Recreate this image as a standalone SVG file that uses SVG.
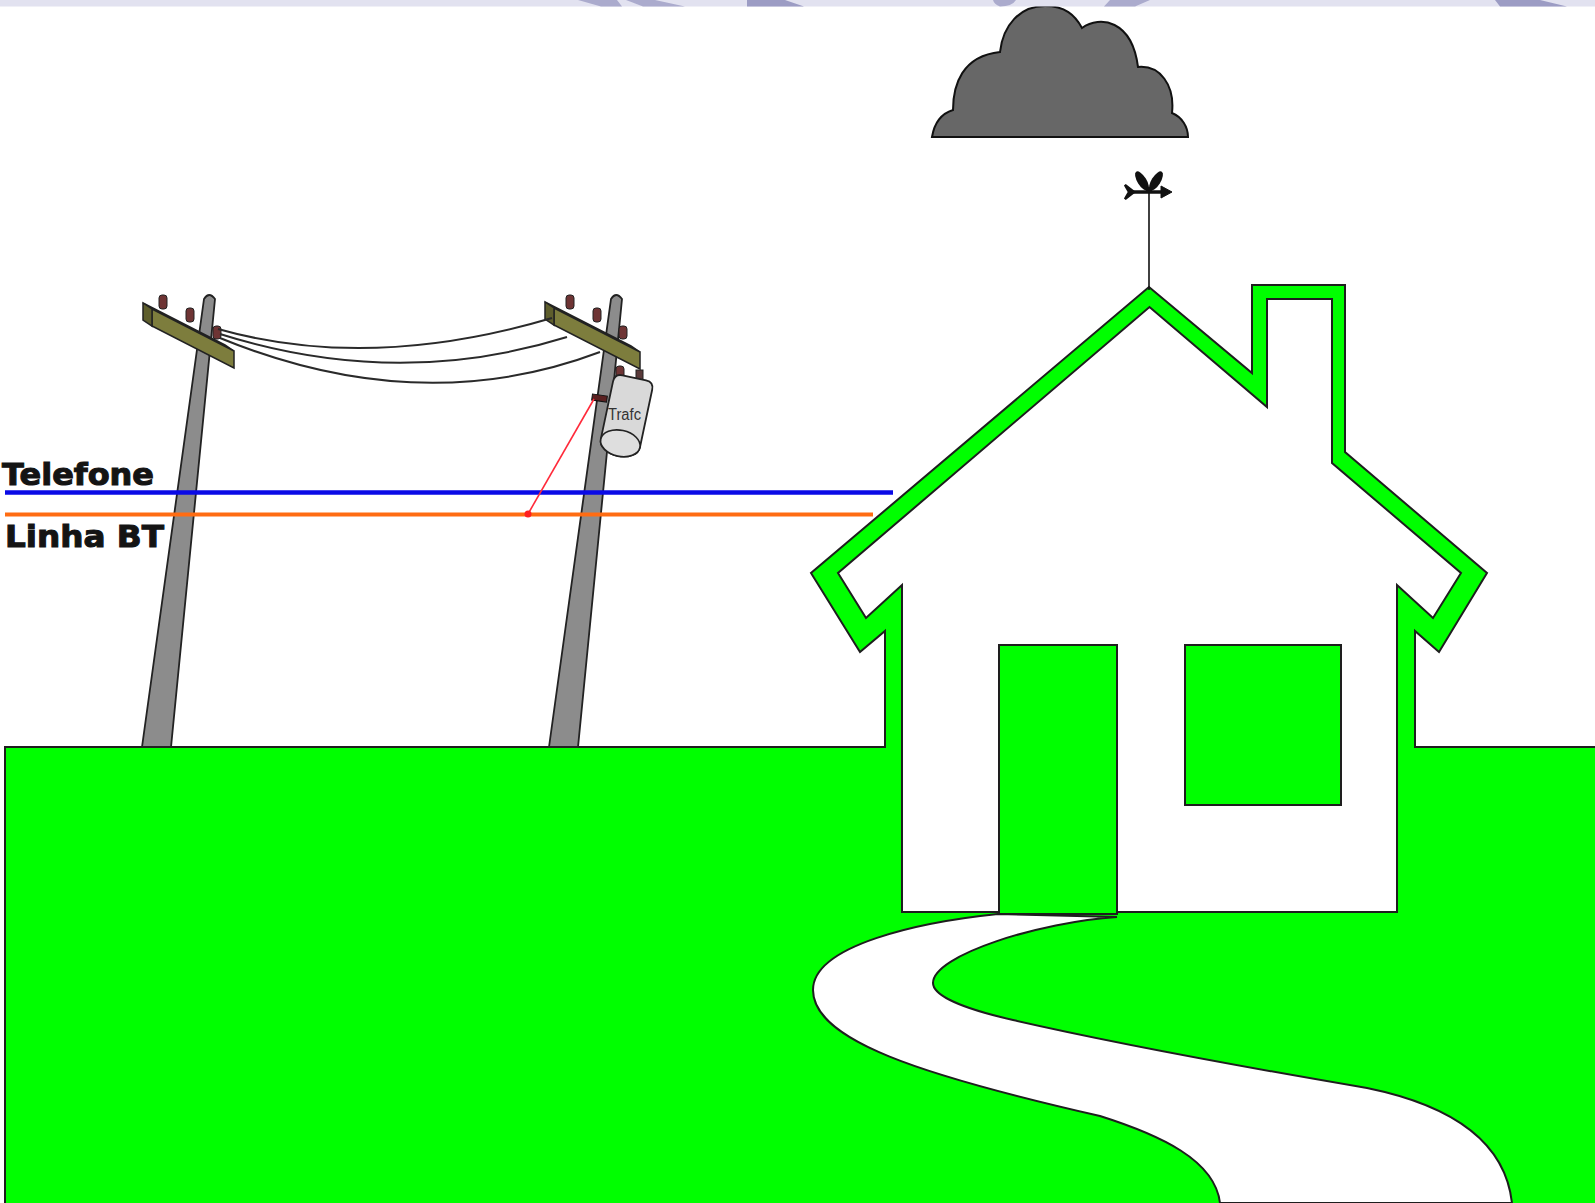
<svg xmlns="http://www.w3.org/2000/svg" width="1595" height="1203" viewBox="0 0 1595 1203">
  <style>
    .edge { stroke: #1e1e1e; stroke-width: 2; stroke-linejoin: miter; }
    .grass { fill: #00ff00; }
    .pole { fill: #8c8c8c; stroke: #222; stroke-width: 1.8; }
    .beam-front { fill: #7d7d3d; stroke: #222; stroke-width: 1.5; }
    .beam-top { fill: #96964f; stroke: #222; stroke-width: 1.5; }
    .beam-end { fill: #5e5e2c; stroke: #222; stroke-width: 1.5; }
    .ins { fill: #6e3434; stroke: #222; stroke-width: 1; }
    .wire { fill: none; stroke: #2a2a2a; stroke-width: 2; }
    .label { font-family: "DejaVu Sans", "Liberation Sans", sans-serif; font-weight: bold; font-size: 31px; fill: #141414; stroke: #141414; stroke-width: 1.1; }
    .band { fill: #ababcd; }
  </style>

  <rect width="1595" height="1203" fill="#ffffff"/>

  <!-- ground -->
  <g id="ground">
    <rect x="5" y="747" width="1590" height="456" class="grass"/>
    <path d="M5,1203 L5,747 L1595,747" fill="none" class="edge"/>
  </g>

  <!-- house: green outer band, white interior -->
  <g id="house">
    <path class="grass" d="M885,760 L885,631 L860,652 L811,573 L1149,287 L1252,373 L1252,285 L1345,285 L1345,452 L1487,573 L1439,652 L1415,631 L1415,760 Z"/>
    <path fill="none" class="edge" d="M885,748 L885,631 L860,652 L811,573 L1149,287 L1252,373 L1252,285 L1345,285 L1345,452 L1487,573 L1439,652 L1415,631 L1415,748"/>
    <path fill="#ffffff" class="edge" d="M902,912 L902,585 L866,618 L838,573 L1149.5,307 L1267,407 L1267,299 L1332,299 L1332,463 L1461,573 L1433,618 L1397,585 L1397,912 Z"/>
    <rect id="door" x="999" y="645" width="118" height="269" class="grass edge"/>
    <rect id="window" x="1185" y="645" width="156" height="160" class="grass edge"/>
  </g>

  <!-- winding path from the door -->
  <g id="road">
    <path fill="#ffffff" class="edge" d="M998,914 C920,922 813,945 813,990 C813,1040 920,1075 1100,1116 C1160,1135 1215,1160 1220,1203 L1512,1203 C1505,1140 1450,1105 1367,1088 C1250,1068 1100,1040 1013,1020 C960,1008 933,995 933,983 C933,955 1040,922 1117,917 Z"/>
  </g>

  <!-- weather vane on the roof peak -->
  <g id="weathervane" fill="#111" stroke="#111">
    <line x1="1149" y1="192" x2="1149" y2="290" stroke-width="1.6"/>
    <line x1="1130" y1="192" x2="1164" y2="192" stroke-width="3.5"/>
    <polygon points="1161,186 1172,192 1161,198" stroke-width="1"/>
    <polygon points="1125,185 1134,192 1125,199 1129,192" stroke-width="2.5"/>
    <ellipse cx="1142" cy="181" rx="4.5" ry="11" transform="rotate(-32 1142 181)" stroke="none"/>
    <ellipse cx="1156" cy="181" rx="4.5" ry="11" transform="rotate(32 1156 181)" stroke="none"/>
    <circle cx="1149" cy="190" r="3" stroke="none"/>
  </g>

  <!-- storm cloud -->
  <g id="cloud">
    <path fill="#676767" stroke="#111" stroke-width="2" d="M932,137 C934,125 940,114 953,110 C953,85 962,56 1000,52 C1003,25 1020,6 1045,6 C1065,6 1075,15 1082,28 C1100,15 1132,20 1138,67 C1160,65 1175,85 1172,113 C1182,117 1188,127 1188,137 Z"/>
  </g>

  <!-- left pole -->
  <g id="pole-left">
    <path class="pole" d="M142,747 L204,299 Q209,291 215,299 L171,747 Z"/>
    <rect class="ins" x="159" y="295" width="8" height="14" rx="3"/>
    <rect class="ins" x="186" y="308" width="8" height="14" rx="3"/>
    <polygon class="beam-top" points="143,303 152,309 234,351 225,345"/>
    <polygon class="beam-front" points="152,309 234,351 234,368 152,326"/>
    <polygon class="beam-end" points="143,303 152,309 152,326 143,320"/>
    <rect class="ins" x="213" y="326" width="8" height="13" rx="3"/>
  </g>

  <!-- right pole with transformer -->
  <g id="pole-right">
    <path class="pole" d="M549,747 L611,299 Q616,291 622,299 L578,747 Z"/>
    <rect class="ins" x="566" y="295" width="8" height="14" rx="3"/>
    <rect class="ins" x="593" y="308" width="8" height="14" rx="3"/>
    <polygon class="beam-top" points="545,302 554,308 640,352 631,346"/>
    <polygon class="beam-front" points="554,308 640,352 640,369 554,325"/>
    <polygon class="beam-end" points="545,302 554,308 554,325 545,319"/>
    <rect class="ins" x="619" y="326" width="8" height="13" rx="3"/>
  </g>

  <g id="transformer">
    <rect class="ins" x="616" y="366" width="8" height="14" rx="3"/>
    <rect x="636" y="370" width="7" height="10" fill="#5a3a3a" stroke="#222" stroke-width="1"/>
    <g transform="rotate(12 627 412)">
      <path fill="#d9d9d9" stroke="#222" stroke-width="1.8" d="M607,385 Q607,377 615,377 L639,377 Q647,377 647,385 L647,444 A20,13 0 0 1 607,444 Z"/>
      <ellipse cx="627" cy="444" rx="20" ry="13" fill="#dedede" stroke="#222" stroke-width="1.6"/>
    </g>
    <text x="608" y="420" font-family="Liberation Sans, Arial, sans-serif" font-size="16" fill="#333" textLength="33" lengthAdjust="spacingAndGlyphs">Trafc</text>
    <rect x="592" y="395" width="15" height="6" fill="#5a2020" stroke="#111" stroke-width="1" transform="rotate(8 599 398)"/>
  </g>

  <!-- lines between poles, service lines and drop wire -->
  <g id="connectors">
    <path class="wire" d="M218,329 Q370,372 552,318"/>
    <path class="wire" d="M220,334 Q397,390 567,337"/>
    <path class="wire" d="M220,338 Q420,420 600,352"/>
    <line x1="5" y1="492.5" x2="893" y2="492.5" stroke="#0a0ae6" stroke-width="4.5"/>
    <line x1="5" y1="514.5" x2="873" y2="514.5" stroke="#ff6c12" stroke-width="4"/>
    <line x1="594" y1="399" x2="528" y2="514" stroke="#ff2a3a" stroke-width="1.6"/>
    <circle cx="528" cy="514" r="3.5" fill="#ff2020"/>
  </g>

  <!-- labels -->
  <g id="labels">
    <text class="label" x="2" y="485" textLength="152" lengthAdjust="spacingAndGlyphs">Telefone</text>
    <text class="label" x="5" y="547" textLength="159" lengthAdjust="spacingAndGlyphs">Linha BT</text>
  </g>

  <!-- header strip -->
  <g id="header">
    <rect x="0" y="0" width="1595" height="6.5" fill="#e2e2f0"/>
    <polygon class="band" points="578,0 617,0 622,6.5 601,6.5"/>
    <polygon class="band" points="626,0 655,0 685,6.5 643,6.5"/>
    <polygon fill="#9c9cc4" points="747,0 785,0 804,6.5 747,6.5"/>
    <path class="band" d="M993,0 L1016,0 Q1012,6.5 1000,6.5 Q994,4 993,0 Z"/>
    <polygon class="band" points="1110,0 1150,0 1135,6.5 1104,6.5"/>
    <polygon fill="#9c9cc4" points="1495,0 1540,0 1567,6.5 1500,6.5"/>
  </g>
</svg>
